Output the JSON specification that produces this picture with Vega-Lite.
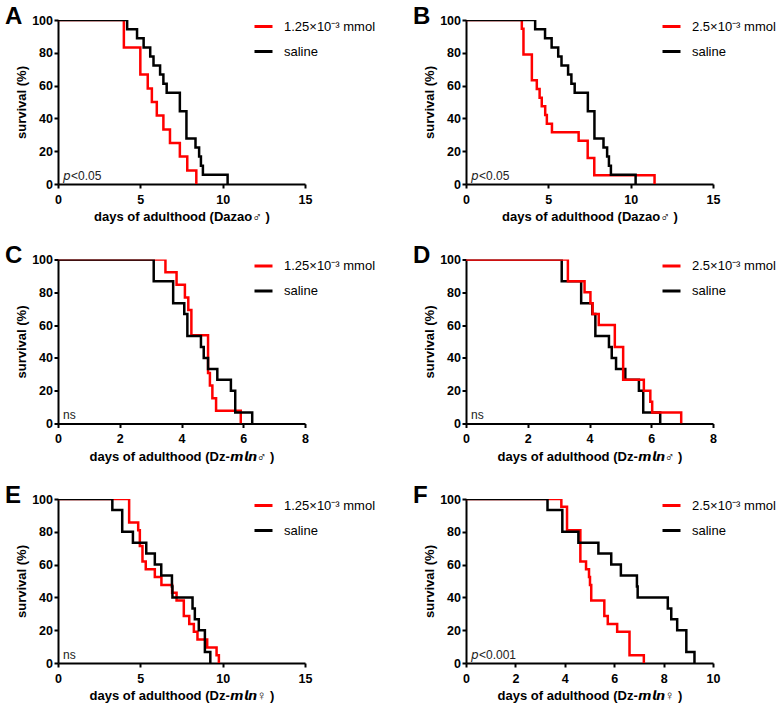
{
  "$schema": "https://vega.github.io/schema/vega-lite/v6.json",
  "autosize": {"type": "none"},
  "padding": {"left": 58, "top": 20, "right": 722, "bottom": 686},
  "background": "white",
  "datasets": {
    "A": [
      {"t": 0, "s": 100, "g": "1.25×10⁻³ mmol"}, {"t": 4.0, "s": 83.3, "g": "1.25×10⁻³ mmol"}, {"t": 5.0, "s": 66.7, "g": "1.25×10⁻³ mmol"}, {"t": 5.45, "s": 58.3, "g": "1.25×10⁻³ mmol"}, {"t": 5.7, "s": 50, "g": "1.25×10⁻³ mmol"}, {"t": 6.0, "s": 41.7, "g": "1.25×10⁻³ mmol"}, {"t": 6.4, "s": 33.3, "g": "1.25×10⁻³ mmol"}, {"t": 6.8, "s": 25, "g": "1.25×10⁻³ mmol"}, {"t": 7.4, "s": 16.7, "g": "1.25×10⁻³ mmol"}, {"t": 7.85, "s": 8.3, "g": "1.25×10⁻³ mmol"}, {"t": 8.4, "s": 0, "g": "1.25×10⁻³ mmol"},
      {"t": 0, "s": 100, "g": "saline"}, {"t": 4.2, "s": 94.4, "g": "saline"}, {"t": 4.8, "s": 88.9, "g": "saline"}, {"t": 5.2, "s": 83.3, "g": "saline"}, {"t": 5.6, "s": 77.8, "g": "saline"}, {"t": 5.8, "s": 72.2, "g": "saline"}, {"t": 6.2, "s": 66.7, "g": "saline"}, {"t": 6.4, "s": 61.1, "g": "saline"}, {"t": 6.6, "s": 55.6, "g": "saline"}, {"t": 7.4, "s": 44.4, "g": "saline"}, {"t": 7.8, "s": 27.8, "g": "saline"}, {"t": 8.35, "s": 22.2, "g": "saline"}, {"t": 8.57, "s": 16.7, "g": "saline"}, {"t": 8.68, "s": 11.1, "g": "saline"}, {"t": 8.8, "s": 5.6, "g": "saline"}, {"t": 10.3, "s": 0, "g": "saline"}
    ],
    "B": [
      {"t": 0, "s": 100, "g": "2.5×10⁻³ mmol"}, {"t": 3.39, "s": 94.7, "g": "2.5×10⁻³ mmol"}, {"t": 3.49, "s": 78.9, "g": "2.5×10⁻³ mmol"}, {"t": 4.0, "s": 63.2, "g": "2.5×10⁻³ mmol"}, {"t": 4.3, "s": 57.9, "g": "2.5×10⁻³ mmol"}, {"t": 4.47, "s": 52.6, "g": "2.5×10⁻³ mmol"}, {"t": 4.6, "s": 47.4, "g": "2.5×10⁻³ mmol"}, {"t": 4.81, "s": 42.1, "g": "2.5×10⁻³ mmol"}, {"t": 4.91, "s": 36.8, "g": "2.5×10⁻³ mmol"}, {"t": 5.22, "s": 31.6, "g": "2.5×10⁻³ mmol"}, {"t": 6.84, "s": 26.3, "g": "2.5×10⁻³ mmol"}, {"t": 7.39, "s": 15.8, "g": "2.5×10⁻³ mmol"}, {"t": 7.79, "s": 5.3, "g": "2.5×10⁻³ mmol"}, {"t": 11.45, "s": 0, "g": "2.5×10⁻³ mmol"},
      {"t": 0, "s": 100, "g": "saline"}, {"t": 4.2, "s": 94.4, "g": "saline"}, {"t": 4.8, "s": 88.9, "g": "saline"}, {"t": 5.2, "s": 83.3, "g": "saline"}, {"t": 5.6, "s": 77.8, "g": "saline"}, {"t": 5.8, "s": 72.2, "g": "saline"}, {"t": 6.2, "s": 66.7, "g": "saline"}, {"t": 6.4, "s": 61.1, "g": "saline"}, {"t": 6.6, "s": 55.6, "g": "saline"}, {"t": 7.4, "s": 44.4, "g": "saline"}, {"t": 7.8, "s": 27.8, "g": "saline"}, {"t": 8.35, "s": 22.2, "g": "saline"}, {"t": 8.57, "s": 16.7, "g": "saline"}, {"t": 8.68, "s": 11.1, "g": "saline"}, {"t": 8.8, "s": 5.6, "g": "saline"}, {"t": 10.3, "s": 0, "g": "saline"}
    ],
    "C": [
      {"t": 0, "s": 100, "g": "1.25×10⁻³ mmol"}, {"t": 3.48, "s": 92.3, "g": "1.25×10⁻³ mmol"}, {"t": 3.84, "s": 84.6, "g": "1.25×10⁻³ mmol"}, {"t": 4.11, "s": 76.9, "g": "1.25×10⁻³ mmol"}, {"t": 4.22, "s": 69.2, "g": "1.25×10⁻³ mmol"}, {"t": 4.32, "s": 53.8, "g": "1.25×10⁻³ mmol"}, {"t": 4.86, "s": 30.8, "g": "1.25×10⁻³ mmol"}, {"t": 4.92, "s": 23.1, "g": "1.25×10⁻³ mmol"}, {"t": 5.0, "s": 15.4, "g": "1.25×10⁻³ mmol"}, {"t": 5.12, "s": 7.7, "g": "1.25×10⁻³ mmol"}, {"t": 5.92, "s": 0, "g": "1.25×10⁻³ mmol"},
      {"t": 0, "s": 100, "g": "saline"}, {"t": 3.1, "s": 86.7, "g": "saline"}, {"t": 3.73, "s": 73.3, "g": "saline"}, {"t": 4.09, "s": 66.7, "g": "saline"}, {"t": 4.19, "s": 53.3, "g": "saline"}, {"t": 4.63, "s": 46.7, "g": "saline"}, {"t": 4.72, "s": 40, "g": "saline"}, {"t": 4.86, "s": 33.3, "g": "saline"}, {"t": 5.16, "s": 26.7, "g": "saline"}, {"t": 5.6, "s": 20, "g": "saline"}, {"t": 5.74, "s": 6.7, "g": "saline"}, {"t": 6.29, "s": 0, "g": "saline"}
    ],
    "D": [
      {"t": 0, "s": 100, "g": "saline"}, {"t": 3.1, "s": 86.7, "g": "saline"}, {"t": 3.73, "s": 73.3, "g": "saline"}, {"t": 4.09, "s": 66.7, "g": "saline"}, {"t": 4.19, "s": 53.3, "g": "saline"}, {"t": 4.63, "s": 46.7, "g": "saline"}, {"t": 4.72, "s": 40, "g": "saline"}, {"t": 4.86, "s": 33.3, "g": "saline"}, {"t": 5.16, "s": 26.7, "g": "saline"}, {"t": 5.6, "s": 20, "g": "saline"}, {"t": 5.74, "s": 6.7, "g": "saline"}, {"t": 6.29, "s": 0, "g": "saline"},
      {"t": 0, "s": 100, "g": "2.5×10⁻³ mmol"}, {"t": 3.3, "s": 86.7, "g": "2.5×10⁻³ mmol"}, {"t": 3.84, "s": 80, "g": "2.5×10⁻³ mmol"}, {"t": 4.03, "s": 73.3, "g": "2.5×10⁻³ mmol"}, {"t": 4.1, "s": 66.7, "g": "2.5×10⁻³ mmol"}, {"t": 4.3, "s": 60, "g": "2.5×10⁻³ mmol"}, {"t": 4.82, "s": 46.7, "g": "2.5×10⁻³ mmol"}, {"t": 5.09, "s": 26.7, "g": "2.5×10⁻³ mmol"}, {"t": 5.76, "s": 20, "g": "2.5×10⁻³ mmol"}, {"t": 5.97, "s": 13.3, "g": "2.5×10⁻³ mmol"}, {"t": 6.03, "s": 6.7, "g": "2.5×10⁻³ mmol"}, {"t": 6.97, "s": 0, "g": "2.5×10⁻³ mmol"}
    ],
    "E": [
      {"t": 0, "s": 100, "g": "1.25×10⁻³ mmol"}, {"t": 4.32, "s": 85.7, "g": "1.25×10⁻³ mmol"}, {"t": 4.87, "s": 81, "g": "1.25×10⁻³ mmol"}, {"t": 4.97, "s": 71.4, "g": "1.25×10⁻³ mmol"}, {"t": 5.13, "s": 61.9, "g": "1.25×10⁻³ mmol"}, {"t": 5.33, "s": 57.1, "g": "1.25×10⁻³ mmol"}, {"t": 5.88, "s": 52.4, "g": "1.25×10⁻³ mmol"}, {"t": 6.28, "s": 47.6, "g": "1.25×10⁻³ mmol"}, {"t": 6.93, "s": 42.9, "g": "1.25×10⁻³ mmol"}, {"t": 7.2, "s": 38.1, "g": "1.25×10⁻³ mmol"}, {"t": 7.64, "s": 28.6, "g": "1.25×10⁻³ mmol"}, {"t": 7.97, "s": 23.8, "g": "1.25×10⁻³ mmol"}, {"t": 8.25, "s": 19, "g": "1.25×10⁻³ mmol"}, {"t": 8.47, "s": 14.3, "g": "1.25×10⁻³ mmol"}, {"t": 9.06, "s": 9.5, "g": "1.25×10⁻³ mmol"}, {"t": 9.63, "s": 4.8, "g": "1.25×10⁻³ mmol"}, {"t": 9.77, "s": 0, "g": "1.25×10⁻³ mmol"},
      {"t": 0, "s": 100, "g": "saline"}, {"t": 3.3, "s": 93.3, "g": "saline"}, {"t": 3.9, "s": 80, "g": "saline"}, {"t": 4.55, "s": 73.3, "g": "saline"}, {"t": 5.36, "s": 66.7, "g": "saline"}, {"t": 5.88, "s": 60, "g": "saline"}, {"t": 6.27, "s": 53.3, "g": "saline"}, {"t": 6.92, "s": 46.7, "g": "saline"}, {"t": 6.95, "s": 40, "g": "saline"}, {"t": 8.17, "s": 33.3, "g": "saline"}, {"t": 8.31, "s": 26.7, "g": "saline"}, {"t": 8.55, "s": 20, "g": "saline"}, {"t": 8.92, "s": 6.7, "g": "saline"}, {"t": 9.25, "s": 0, "g": "saline"}
    ],
    "F": [
      {"t": 0, "s": 100, "g": "2.5×10⁻³ mmol"}, {"t": 3.86, "s": 95.2, "g": "2.5×10⁻³ mmol"}, {"t": 4.09, "s": 81, "g": "2.5×10⁻³ mmol"}, {"t": 4.63, "s": 61.9, "g": "2.5×10⁻³ mmol"}, {"t": 4.86, "s": 57.1, "g": "2.5×10⁻³ mmol"}, {"t": 4.98, "s": 52.4, "g": "2.5×10⁻³ mmol"}, {"t": 5.02, "s": 47.6, "g": "2.5×10⁻³ mmol"}, {"t": 5.07, "s": 38.1, "g": "2.5×10⁻³ mmol"}, {"t": 5.6, "s": 28.6, "g": "2.5×10⁻³ mmol"}, {"t": 5.74, "s": 23.8, "g": "2.5×10⁻³ mmol"}, {"t": 6.12, "s": 19, "g": "2.5×10⁻³ mmol"}, {"t": 6.62, "s": 4.8, "g": "2.5×10⁻³ mmol"}, {"t": 7.2, "s": 0, "g": "2.5×10⁻³ mmol"},
      {"t": 0, "s": 100, "g": "saline"}, {"t": 3.3, "s": 93.3, "g": "saline"}, {"t": 3.9, "s": 80, "g": "saline"}, {"t": 4.55, "s": 73.3, "g": "saline"}, {"t": 5.36, "s": 66.7, "g": "saline"}, {"t": 5.88, "s": 60, "g": "saline"}, {"t": 6.27, "s": 53.3, "g": "saline"}, {"t": 6.92, "s": 46.7, "g": "saline"}, {"t": 6.95, "s": 40, "g": "saline"}, {"t": 8.17, "s": 33.3, "g": "saline"}, {"t": 8.31, "s": 26.7, "g": "saline"}, {"t": 8.55, "s": 20, "g": "saline"}, {"t": 8.92, "s": 6.7, "g": "saline"}, {"t": 9.25, "s": 0, "g": "saline"}
    ]
  },
  "concat": [
    {
      "title": "A", "width": 247, "height": 164,
      "encoding": {
        "x": {"field": "t", "type": "quantitative", "scale": {"domain": [0, 15], "nice": false}, "axis": {"values": [0, 5, 10, 15], "title": "days of adulthood (Dazao♂ )"}},
        "y": {"field": "s", "type": "quantitative", "scale": {"domain": [0, 100], "nice": false}, "axis": {"values": [0, 20, 40, 60, 80, 100], "title": "survival (%)"}}
      },
      "layer": [
        {"data": {"name": "A"}, "mark": {"type": "line", "interpolate": "step-after", "clip": true, "strokeWidth": 2.5},
         "encoding": {"color": {"field": "g", "type": "nominal", "scale": {"domain": ["1.25×10⁻³ mmol", "saline"], "range": ["#ff0000", "#000000"]}, "legend": {"title": null}}}},
        {"data": {"values": [{"t": 0, "s": 0, "note": "𝘱<0.05"}]}, "mark": {"type": "text", "align": "left", "baseline": "alphabetic", "dx": 5, "dy": -4.5, "fontSize": 12, "font": "Liberation Sans", "color": "#222"},
         "encoding": {"text": {"field": "note"}}}
      ]
    },
    {
      "title": "B", "width": 247, "height": 164,
      "encoding": {
        "x": {"field": "t", "type": "quantitative", "scale": {"domain": [0, 15], "nice": false}, "axis": {"values": [0, 5, 10, 15], "title": "days of adulthood (Dazao♂ )"}},
        "y": {"field": "s", "type": "quantitative", "scale": {"domain": [0, 100], "nice": false}, "axis": {"values": [0, 20, 40, 60, 80, 100], "title": "survival (%)"}}
      },
      "layer": [
        {"data": {"name": "B"}, "mark": {"type": "line", "interpolate": "step-after", "clip": true, "strokeWidth": 2.5},
         "encoding": {"color": {"field": "g", "type": "nominal", "scale": {"domain": ["2.5×10⁻³ mmol", "saline"], "range": ["#ff0000", "#000000"]}, "legend": {"title": null}}}},
        {"data": {"values": [{"t": 0, "s": 0, "note": "𝘱<0.05"}]}, "mark": {"type": "text", "align": "left", "baseline": "alphabetic", "dx": 5, "dy": -4.5, "fontSize": 12, "font": "Liberation Sans", "color": "#222"},
         "encoding": {"text": {"field": "note"}}}
      ]
    },
    {
      "title": "C", "width": 247, "height": 164,
      "encoding": {
        "x": {"field": "t", "type": "quantitative", "scale": {"domain": [0, 8], "nice": false}, "axis": {"values": [0, 2, 4, 6, 8], "title": "days of adulthood (Dz-𝙢𝙡𝙣♂ )"}},
        "y": {"field": "s", "type": "quantitative", "scale": {"domain": [0, 100], "nice": false}, "axis": {"values": [0, 20, 40, 60, 80, 100], "title": "survival (%)"}}
      },
      "layer": [
        {"data": {"name": "C"}, "mark": {"type": "line", "interpolate": "step-after", "clip": true, "strokeWidth": 2.5},
         "encoding": {"color": {"field": "g", "type": "nominal", "scale": {"domain": ["1.25×10⁻³ mmol", "saline"], "range": ["#ff0000", "#000000"]}, "legend": {"title": null}}}},
        {"data": {"values": [{"t": 0, "s": 0, "note": "ns"}]}, "mark": {"type": "text", "align": "left", "baseline": "alphabetic", "dx": 5, "dy": -4.5, "fontSize": 12, "font": "Liberation Sans", "color": "#222"},
         "encoding": {"text": {"field": "note"}}}
      ]
    },
    {
      "title": "D", "width": 247, "height": 164,
      "encoding": {
        "x": {"field": "t", "type": "quantitative", "scale": {"domain": [0, 8], "nice": false}, "axis": {"values": [0, 2, 4, 6, 8], "title": "days of adulthood (Dz-𝙢𝙡𝙣♂ )"}},
        "y": {"field": "s", "type": "quantitative", "scale": {"domain": [0, 100], "nice": false}, "axis": {"values": [0, 20, 40, 60, 80, 100], "title": "survival (%)"}}
      },
      "layer": [
        {"data": {"name": "D"}, "mark": {"type": "line", "interpolate": "step-after", "clip": true, "strokeWidth": 2.5},
         "encoding": {"color": {"field": "g", "type": "nominal", "scale": {"domain": ["2.5×10⁻³ mmol", "saline"], "range": ["#ff0000", "#000000"]}, "legend": {"title": null}}}},
        {"data": {"values": [{"t": 0, "s": 0, "note": "ns"}]}, "mark": {"type": "text", "align": "left", "baseline": "alphabetic", "dx": 5, "dy": -4.5, "fontSize": 12, "font": "Liberation Sans", "color": "#222"},
         "encoding": {"text": {"field": "note"}}}
      ]
    },
    {
      "title": "E", "width": 247, "height": 164,
      "encoding": {
        "x": {"field": "t", "type": "quantitative", "scale": {"domain": [0, 15], "nice": false}, "axis": {"values": [0, 5, 10, 15], "title": "days of adulthood (Dz-𝙢𝙡𝙣♀ )"}},
        "y": {"field": "s", "type": "quantitative", "scale": {"domain": [0, 100], "nice": false}, "axis": {"values": [0, 20, 40, 60, 80, 100], "title": "survival (%)"}}
      },
      "layer": [
        {"data": {"name": "E"}, "mark": {"type": "line", "interpolate": "step-after", "clip": true, "strokeWidth": 2.5},
         "encoding": {"color": {"field": "g", "type": "nominal", "scale": {"domain": ["1.25×10⁻³ mmol", "saline"], "range": ["#ff0000", "#000000"]}, "legend": {"title": null}}}},
        {"data": {"values": [{"t": 0, "s": 0, "note": "ns"}]}, "mark": {"type": "text", "align": "left", "baseline": "alphabetic", "dx": 5, "dy": -4.5, "fontSize": 12, "font": "Liberation Sans", "color": "#222"},
         "encoding": {"text": {"field": "note"}}}
      ]
    },
    {
      "title": "F", "width": 247, "height": 164,
      "encoding": {
        "x": {"field": "t", "type": "quantitative", "scale": {"domain": [0, 10], "nice": false}, "axis": {"values": [0, 2, 4, 6, 8, 10], "title": "days of adulthood (Dz-𝙢𝙡𝙣♀ )"}},
        "y": {"field": "s", "type": "quantitative", "scale": {"domain": [0, 100], "nice": false}, "axis": {"values": [0, 20, 40, 60, 80, 100], "title": "survival (%)"}}
      },
      "layer": [
        {"data": {"name": "F"}, "mark": {"type": "line", "interpolate": "step-after", "clip": true, "strokeWidth": 2.5},
         "encoding": {"color": {"field": "g", "type": "nominal", "scale": {"domain": ["2.5×10⁻³ mmol", "saline"], "range": ["#ff0000", "#000000"]}, "legend": {"title": null}}}},
        {"data": {"values": [{"t": 0, "s": 0, "note": "𝘱<0.001"}]}, "mark": {"type": "text", "align": "left", "baseline": "alphabetic", "dx": 5, "dy": -4.5, "fontSize": 12, "font": "Liberation Sans", "color": "#222"},
         "encoding": {"text": {"field": "note"}}}
      ]
    }
  ],
  "columns": 2,
  "spacing": {"row": 75.5, "column": 161},
  "bounds": "flush",
  "resolve": {"scale": {"x": "independent", "y": "independent", "color": "independent"}, "legend": {"color": "independent"}},
  "config": {
    "view": {"stroke": null},
    "font": "Liberation Sans",
    "title": {"anchor": "start", "frame": "group", "orient": "top", "offset": 0, "dx": -53, "dy": 18.5, "fontSize": 24, "fontWeight": "bold", "font": "Liberation Sans", "color": "#000", "baseline": "alphabetic"},
    "axis": {"grid": false, "domainColor": "#000", "domainWidth": 2, "tickColor": "#000", "tickWidth": 2, "tickSize": 4, "labelFont": "Liberation Sans", "labelFontSize": 12.5, "labelFontWeight": "bold", "labelColor": "#000", "titleFont": "Liberation Sans", "titleFontSize": 13, "titleFontWeight": "bold", "titleColor": "#000", "labelFlush": false, "labelOverlap": false},
    "axisX": {"labelPadding": 5, "titlePadding": 5},
    "axisY": {"labelPadding": 1.5, "titlePadding": 3},
    "legend": {"orient": "none", "legendX": 195, "legendY": -4, "padding": 0, "symbolType": "stroke", "symbolSize": 324, "symbolStrokeWidth": 3, "labelFont": "Liberation Sans", "labelFontSize": 13, "labelColor": "#000", "labelOffset": 10, "rowPadding": 7}
  }
}
